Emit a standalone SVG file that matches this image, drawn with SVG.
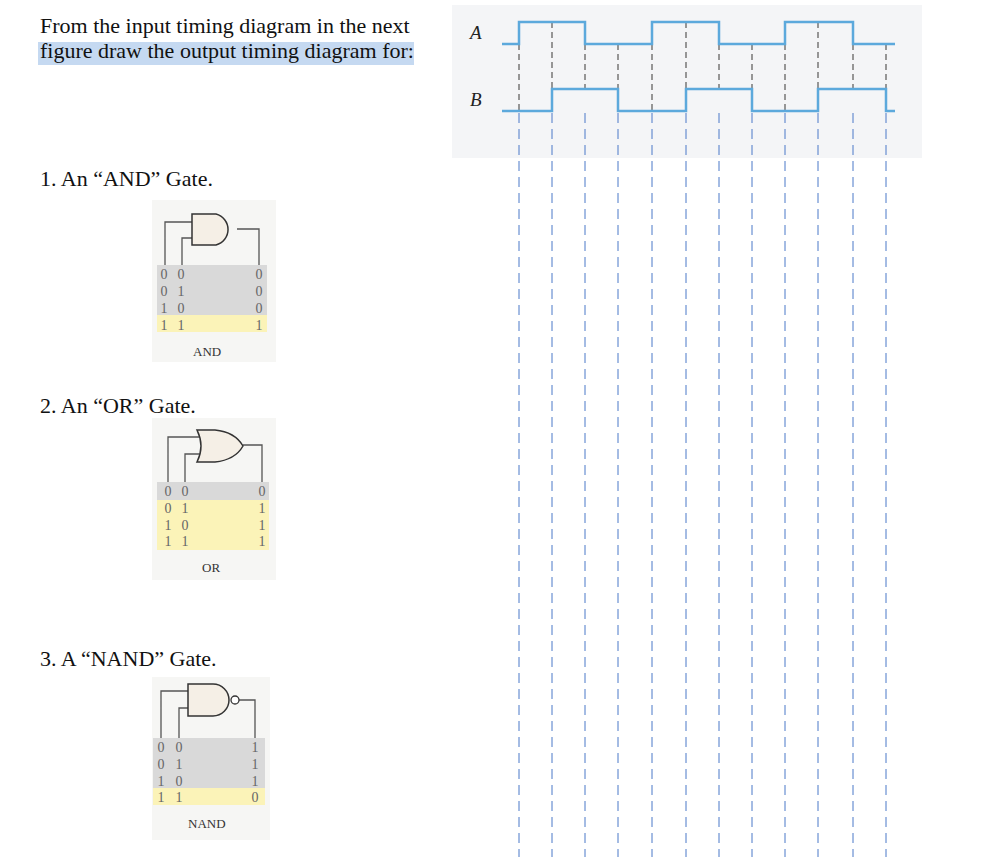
<svg xmlns="http://www.w3.org/2000/svg" width="1005" height="857" viewBox="0 0 1005 857">
<style>
.t{font-family:"Liberation Serif",serif;font-size:22px;fill:#111}
.d{font-family:"Liberation Serif",serif;font-size:14px;fill:#666;text-anchor:middle}
.lbl{font-family:"Liberation Serif",serif;font-size:13px;fill:#333}
.w{fill:none;stroke:#555;stroke-width:1.3}
.g{fill:#f5efe6;stroke:#333;stroke-width:1.5}
.sig{fill:none;stroke:#5ca9dc;stroke-width:2.5}
.gd{stroke:#777;stroke-width:1.5;stroke-dasharray:6 4}
.bd{stroke:#4a78c8;stroke-width:1;stroke-dasharray:10 6}
</style>
<rect width="1005" height="857" fill="#fff"/>
<rect x="38" y="42" width="376" height="23" fill="#c5d9f1"/>
<text class="t" x="40" y="33">From the input timing diagram in the next</text>
<text class="t" x="40" y="58">figure draw the output timing diagram for:</text>
<text class="t" x="40" y="186">1.  An “AND” Gate.</text>
<text class="t" x="40" y="413">2. An “OR” Gate.</text>
<text class="t" x="40" y="666">3. A “NAND” Gate.</text>

<g id="and-gate">
<rect x="152" y="200" width="124" height="162" fill="#f6f6f4"/>
<rect x="157" y="265" width="110" height="50" fill="#d9d9d9"/>
<rect x="157" y="315" width="110" height="17" fill="#fbf3b8"/>
<path class="w" d="M165 265V222H192M182 265V238H192M237 229H259V265"/>
<path class="g" d="M192 214H216A16 16 0 0 1 216 245H192Z"/>
<g class="d"><text x="164" y="279">0</text><text x="181" y="279">0</text><text x="164" y="296">0</text><text x="181" y="296">1</text><text x="164" y="313">1</text><text x="181" y="313">0</text><text x="164" y="330">1</text><text x="181" y="330">1</text>
<text x="259" y="279">0</text><text x="259" y="296">0</text><text x="259" y="313">0</text><text x="259" y="330">1</text></g>
<text class="lbl" x="193" y="356">AND</text>
</g>

<g id="or-gate">
<rect x="152" y="418" width="124" height="162" fill="#f6f6f4"/>
<rect x="157" y="482" width="112" height="18" fill="#d9d9d9"/>
<rect x="157" y="500" width="112" height="50" fill="#fbf3b8"/>
<path class="w" d="M168 482V437H200M185 482V454H200M243 445H262V482"/>
<path class="g" d="M197 430H215Q235 432 243 446Q235 460 215 462H197Q205 446 197 430Z"/>
<g class="d"><text x="168" y="496">0</text><text x="185" y="496">0</text><text x="168" y="513">0</text><text x="185" y="513">1</text><text x="168" y="530">1</text><text x="185" y="530">0</text><text x="168" y="546">1</text><text x="185" y="546">1</text>
<text x="262" y="496">0</text><text x="262" y="513">1</text><text x="262" y="530">1</text><text x="262" y="546">1</text></g>
<text class="lbl" x="202" y="572">OR</text>
</g>

<g id="nand-gate">
<rect x="152" y="677" width="118" height="163" fill="#f6f6f4"/>
<rect x="153" y="738" width="112" height="50" fill="#d9d9d9"/>
<rect x="153" y="788" width="112" height="17" fill="#fbf3b8"/>
<path class="w" d="M161 738V691H188M179 738V708H188M239 700H255V738"/>
<path class="g" d="M188 684H213A16 16 0 0 1 213 716H188Z"/>
<circle cx="235" cy="700" r="4" fill="#fff" stroke="#333" stroke-width="1.3"/>
<g class="d"><text x="161" y="752">0</text><text x="179" y="752">0</text><text x="161" y="769">0</text><text x="179" y="769">1</text><text x="161" y="786">1</text><text x="179" y="786">0</text><text x="161" y="802">1</text><text x="179" y="802">1</text>
<text x="255" y="752">1</text><text x="255" y="769">1</text><text x="255" y="786">1</text><text x="255" y="802">0</text></g>
<text class="lbl" x="188" y="828">NAND</text>
</g>

<g id="timing">
<rect x="452" y="5" width="470" height="153" fill="#f4f5f7"/>
<text x="470" y="39" font-family="Liberation Serif,serif" font-style="italic" font-size="19" fill="#222">A</text>
<text x="470" y="106" font-family="Liberation Serif,serif" font-style="italic" font-size="19" fill="#222">B</text>
<g class="gd">
<line x1="519" y1="44" x2="519" y2="111"/><line x1="552" y1="22" x2="552" y2="89"/><line x1="585" y1="44" x2="585" y2="89"/>
<line x1="618" y1="44" x2="618" y2="89"/><line x1="652" y1="44" x2="652" y2="111"/><line x1="686" y1="22" x2="686" y2="89"/>
<line x1="719" y1="44" x2="719" y2="89"/><line x1="752" y1="44" x2="752" y2="89"/><line x1="785" y1="44" x2="785" y2="111"/>
<line x1="818" y1="22" x2="818" y2="89"/><line x1="853" y1="44" x2="853" y2="89"/><line x1="886" y1="44" x2="886" y2="89"/>
</g>
<path class="sig" d="M502 44H519V22H585V44H652V22H719V44H785V22H853V44H895"/>
<path class="sig" d="M502 111H552V89H618V111H686V89H752V111H818V89H886V111H895"/>
</g>

<g id="connectors" class="bd">
<line x1="519" y1="113" x2="519" y2="857"/><line x1="552" y1="113" x2="552" y2="857"/><line x1="585" y1="113" x2="585" y2="857"/>
<line x1="618" y1="113" x2="618" y2="857"/><line x1="652" y1="113" x2="652" y2="857"/><line x1="686" y1="113" x2="686" y2="857"/>
<line x1="719" y1="113" x2="719" y2="857"/><line x1="752" y1="113" x2="752" y2="857"/><line x1="785" y1="113" x2="785" y2="857"/>
<line x1="818" y1="113" x2="818" y2="857"/><line x1="853" y1="113" x2="853" y2="857"/><line x1="886" y1="113" x2="886" y2="857"/>
</g>
</svg>
